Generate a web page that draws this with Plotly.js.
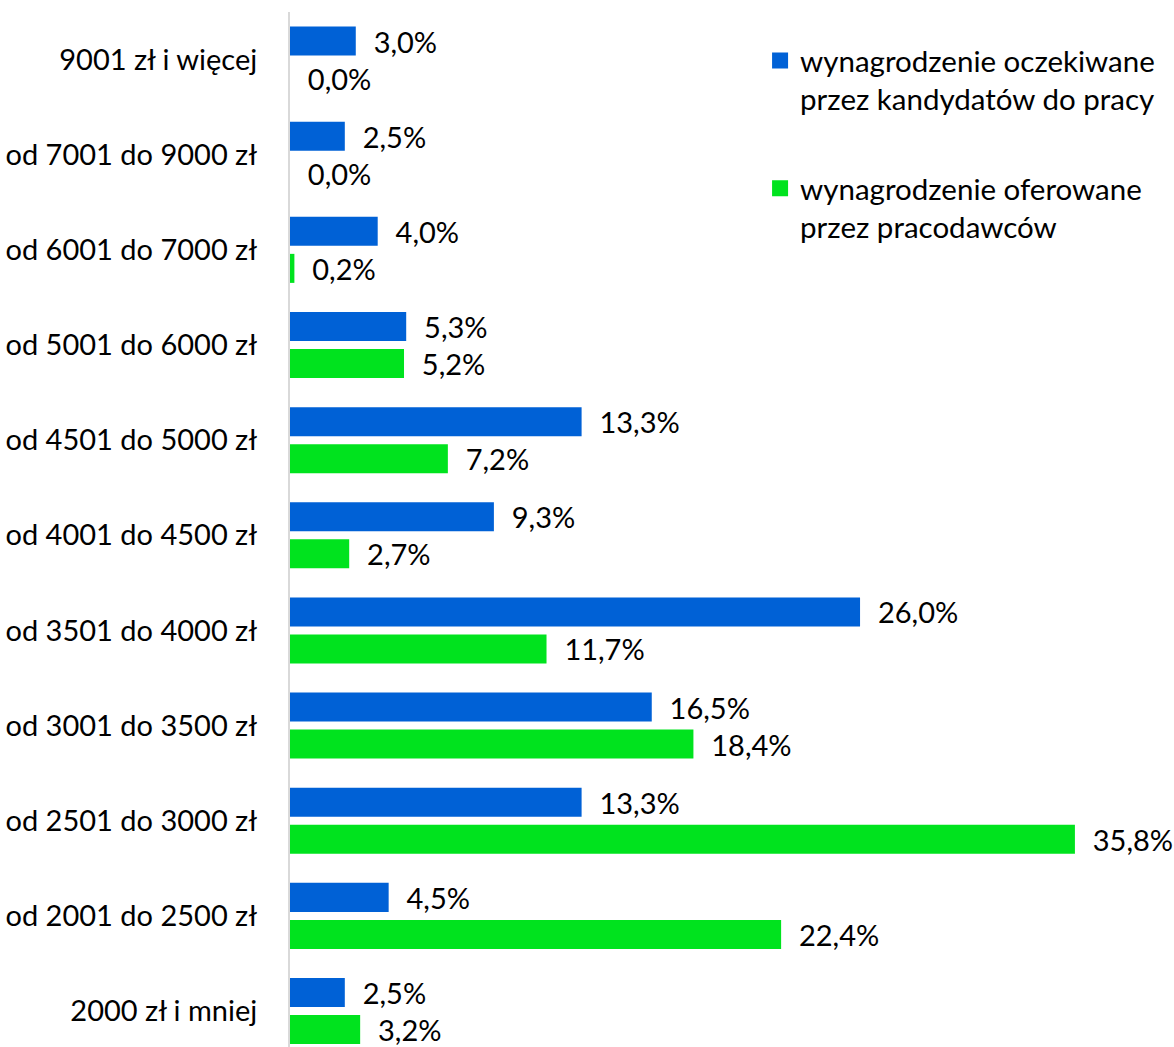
<!DOCTYPE html>
<html><head><meta charset="utf-8">
<script src="https://cdn.plot.ly/plotly-3.0.1.min.js"></script>
<style>html,body{margin:0;padding:0;background:#fff}</style>
</head><body><div id="chart" style="width:1174px;height:1047px"></div>
<script>
const categories = ["2000 zł i mniej","od 2001 do 2500 zł","od 2501 do 3000 zł","od 3001 do 3500 zł","od 3501 do 4000 zł","od 4001 do 4500 zł","od 4501 do 5000 zł","od 5001 do 6000 zł","od 6001 do 7000 zł","od 7001 do 9000 zł","9001 zł i więcej"];
const expected = [2.5,4.5,13.3,16.5,26.0,9.3,13.3,5.3,4.0,2.5,3.0];
const offered = [3.2,22.4,35.8,18.4,11.7,2.7,7.2,5.2,0.2,0.0,0.0];
const seriesNames = ["wynagrodzenie oczekiwane<br>przez kandydatów do pracy","wynagrodzenie oferowane<br>przez pracodawców"];
const seriesColors = ['#0061D6','#00E31E'];

const fmt = v => '\u00A0\u00A0' + v.toFixed(1).replace('.', ',') + '%';
const FONT = 'Lato, "Open Sans", sans-serif';

const traces = [
  {type:'bar', orientation:'h', y:categories, x:offered, name:seriesNames[1], showlegend:false,
   marker:{color:seriesColors[1]}, text:offered.map(fmt), textposition:'outside', constraintext:'none',
   textfont:{size:29,color:'#000',family:FONT}, cliponaxis:false, hoverinfo:'none'},
  {type:'bar', orientation:'h', y:categories, x:expected, name:seriesNames[0], showlegend:false,
   marker:{color:seriesColors[0]}, text:expected.map(fmt), textposition:'outside', constraintext:'none',
   textfont:{size:29,color:'#000',family:FONT}, cliponaxis:false, hoverinfo:'none'},
  {type:'scatter', mode:'markers', x:[null], y:[null], name:seriesNames[0], legendgroup:'a', legendrank:1,
   marker:{symbol:'square', size:17, color:seriesColors[0]}, hoverinfo:'none'},
  {type:'scatter', mode:'markers', x:[null], y:[null], name:seriesNames[1], legendgroup:'b', legendrank:2,
   marker:{symbol:'square', size:17, color:seriesColors[1]}, hoverinfo:'none'}
];

const layout = {
  width:1174, height:1047,
  margin:{l:290, r:7, t:12, b:0},
  paper_bgcolor:'#fff', plot_bgcolor:'#fff',
  font:{family:FONT, size:29, color:'#000'},
  barmode:'group', bargap:0.222, bargroupgap:0.216,
  xaxis:{range:[0,40], showgrid:false, zeroline:false, showticklabels:false, showline:false, fixedrange:true},
  yaxis:{type:'category', categoryorder:'array', categoryarray:categories, range:[-0.378,10.5], showgrid:false, zeroline:false,
         showline:true, linecolor:'#d9d9d9', linewidth:2, ticks:'', ticklabelstandoff:25,
         tickfont:{size:29, family:FONT, color:'#000'}},
  legend:{x:0.536, xanchor:'left', y:0.978, yanchor:'top', valign:'top', tracegroupgap:48,
          font:{size:29.5, family:FONT, color:'#000'}, itemwidth:30, bgcolor:'rgba(0,0,0,0)'},
  showlegend:true
};
Plotly.newPlot('chart', traces, layout, {staticPlot:true, displayModeBar:false});
</script></body></html>
